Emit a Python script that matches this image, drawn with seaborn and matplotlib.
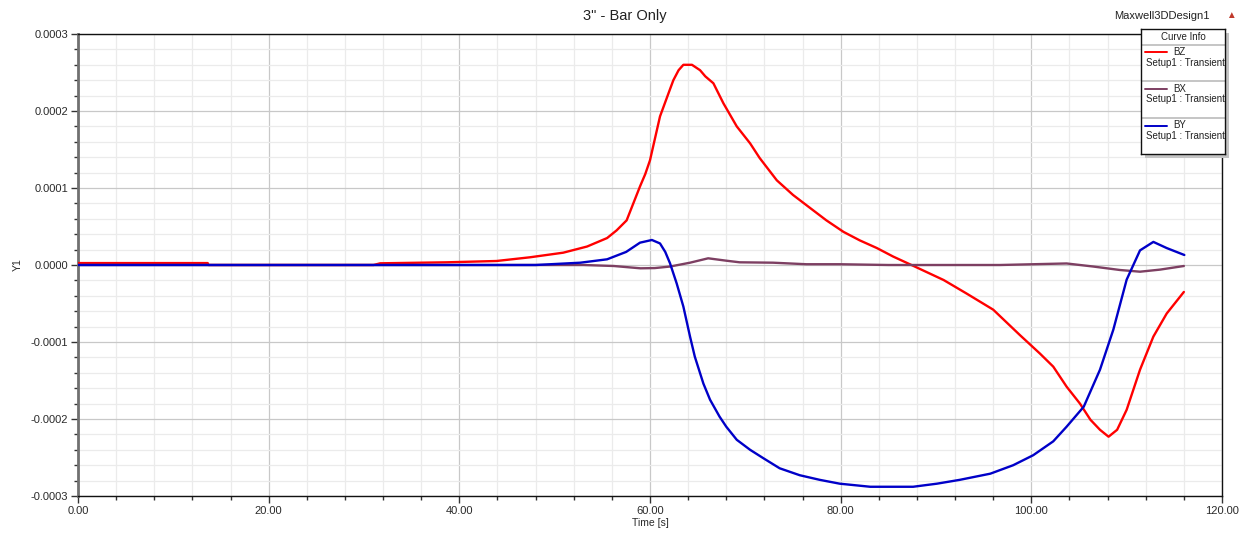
import numpy as np
import pandas as pd
import matplotlib
matplotlib.use("Agg")
import matplotlib.pyplot as plt
from matplotlib.ticker import MultipleLocator, FuncFormatter
import seaborn as sns

# ---------------- data ----------------
bz_t = [0, 13.6, 13.7, 31.0, 31.7, 38.7, 43.9, 47.4, 50.9, 53.4, 55.5, 56.5, 57.55, 58.95,
        59.5, 60.0, 61.05, 62.0, 62.45, 63.0, 63.5, 64.4, 65.25, 65.8, 66.65, 67.7, 69.1,
        70.5, 71.5, 73.3, 75.0, 76.8, 78.5, 80.3, 82.0, 83.8, 85.5, 87.6, 90.8, 93.2, 96.0,
        98.8, 100.9, 102.3, 103.7, 105.1, 106.2, 107.2, 108.1, 109.0, 110.0, 111.4, 112.8,
        114.2, 116.0]
bz_v = [2.5e-6, 2.5e-6, 0.0, 0.0, 2.2e-6, 3.5e-6, 5.2e-6, 1.0e-5, 1.6e-5, 2.4e-5, 3.5e-5,
        4.5e-5, 5.8e-5, 1.02e-4, 1.18e-4, 1.36e-4, 1.93e-4, 2.25e-4, 2.40e-4, 2.53e-4,
        2.60e-4, 2.60e-4, 2.53e-4, 2.45e-4, 2.36e-4, 2.10e-4, 1.80e-4, 1.58e-4, 1.39e-4,
        1.10e-4, 9.1e-5, 7.4e-5, 5.8e-5, 4.3e-5, 3.2e-5, 2.2e-5, 1.1e-5, -1e-6, -1.95e-5,
        -3.7e-5, -5.8e-5, -9.1e-5, -1.15e-4, -1.32e-4, -1.58e-4, -1.80e-4, -2.01e-4,
        -2.14e-4, -2.23e-4, -2.14e-4, -1.88e-4, -1.36e-4, -9.3e-5, -6.3e-5, -3.5e-5]

bx_t = [0, 50.0, 53.0, 56.2, 59.0, 60.5, 62.1, 64.2, 66.1, 68.0, 69.4, 72.9, 76.4, 79.9,
        85.0, 96.7, 103.7, 106.5, 109.3, 111.4, 113.5, 116.0]
bx_v = [0.0, 0.0, 0.0, -1.3e-6, -4.3e-6, -4.0e-6, -2e-6, 3e-6, 8.7e-6, 5.6e-6, 3.5e-6,
        3e-6, 1e-6, 1e-6, 0.0, 0.0, 2e-6, -2e-6, -6.5e-6, -8.7e-6, -6e-6, -1.3e-6]

by_t = [0, 48.0, 52.7, 55.5, 57.5, 58.95, 60.2, 61.05, 61.6, 62.1, 62.8, 63.5, 64.2, 64.7,
        65.6, 66.3, 67.3, 68.0, 69.1, 70.5, 71.9, 73.6, 75.7, 77.8, 79.9, 83.1, 87.6, 90.1,
        92.5, 95.7, 98.1, 100.2, 102.3, 103.7, 105.5, 107.2, 108.6, 110.0, 111.4, 112.8,
        114.2, 116.05]
by_v = [0.0, 0.0, 3e-6, 7.4e-6, 1.7e-5, 2.9e-5, 3.25e-5, 2.8e-5, 1.7e-5, 2.2e-6, -2.4e-5,
        -5.4e-5, -9.3e-5, -1.19e-4, -1.54e-4, -1.75e-4, -1.97e-4, -2.10e-4, -2.27e-4,
        -2.40e-4, -2.51e-4, -2.64e-4, -2.73e-4, -2.79e-4, -2.84e-4, -2.88e-4, -2.88e-4,
        -2.84e-4, -2.79e-4, -2.71e-4, -2.60e-4, -2.47e-4, -2.29e-4, -2.10e-4, -1.84e-4,
        -1.36e-4, -8.4e-5, -1.9e-5, 1.9e-5, 3.0e-5, 2.2e-5, 1.3e-5]

series_names = ["BZ", "BX", "BY"]
series_colors = {"BZ": "#ff0000", "BX": "#7d3f62", "BY": "#0000c8"}
title = '3" - Bar Only'
design = "Maxwell3DDesign1"
setup_label = "Setup1 : Transient"

# ---------------- figure ----------------
sns.set_theme(style="white")
plt.rcParams['font.family'] = ['Liberation Sans', 'DejaVu Sans']

W, H = 1249, 536
fig = plt.figure(figsize=(W / 100, H / 100), dpi=100)
ax = fig.add_axes([78 / W, 1 - 496 / H, (1222 - 78) / W, (496 - 34) / H])

data = {"BZ": (bz_t, bz_v), "BX": (bx_t, bx_v), "BY": (by_t, by_v)}
for name in series_names:
    t, v = data[name]
    df = pd.DataFrame({"Time": t, "Y1": v})
    sns.lineplot(data=df, x="Time", y="Y1", color=series_colors[name], lw=1.7,
                 estimator=None, sort=False, ax=ax, zorder=3)

ax.set_xlim(0, 120)
ax.set_ylim(-0.0003, 0.0003)
ax.xaxis.set_major_locator(MultipleLocator(20))
ax.xaxis.set_minor_locator(MultipleLocator(4))
ax.yaxis.set_major_locator(MultipleLocator(0.0001))
ax.yaxis.set_minor_locator(MultipleLocator(0.00002))
ax.xaxis.set_major_formatter(FuncFormatter(lambda v, p: f"{v:.2f}"))
ax.yaxis.set_major_formatter(FuncFormatter(lambda v, p: f"{v:.4f}" if abs(v) > 1e-12 else "0.0000"))

ax.grid(which="major", color="#c8c8c8", lw=0.9, zorder=0)
ax.grid(which="minor", color="#ebebeb", lw=0.9, zorder=0)
ax.set_axisbelow(True)

ax.tick_params(axis="both", which="major", direction="out", length=5, width=1,
               color="#333333", labelsize=8, labelcolor="#2a2a2a", pad=2, bottom=True, left=True)
ax.tick_params(axis="both", which="minor", direction="out", length=3, width=1,
               color="#333333", bottom=True, left=True)
for s in ["top", "right", "bottom"]:
    ax.spines[s].set_color("#111111")
    ax.spines[s].set_linewidth(1.0)
ax.spines["left"].set_color("#707070")
ax.spines["left"].set_linewidth(2.0)

ax.set_xlabel("Time [s]", fontsize=7.5, color="#2a2a2a", labelpad=2)
ax.set_ylabel("Y1", fontsize=7.5, color="#2a2a2a", labelpad=6)

fig.text(0.5, 1 - 16 / H, title, ha="center", va="center", fontsize=10.5, color="#222222")
fig.text(1162 / W, 1 - 16 / H, design, ha="center", va="center", fontsize=8, color="#222222")
fig.text(1231 / W, 1 - 15 / H, "\u25b2", ha="center", va="center", fontsize=7, color="#c0392b")

# ---------------- legend box ("Curve Info") ----------------
lx0, ly0, lx1, ly1 = 1141, 29, 1225, 154
sh = fig.add_axes([(lx0 + 4) / W, 1 - (ly1 + 4) / H, (lx1 - lx0) / W, (ly1 - ly0) / H])
sh.set_facecolor("#c4c4c4")
sh.set_xticks([]); sh.set_yticks([])
for s in sh.spines.values():
    s.set_visible(False)

lax = fig.add_axes([lx0 / W, 1 - ly1 / H, (lx1 - lx0) / W, (ly1 - ly0) / H])
lax.set_xlim(lx0, lx1)
lax.set_ylim(ly1, ly0)
lax.set_facecolor("white")
lax.set_xticks([]); lax.set_yticks([])
for s in lax.spines.values():
    s.set_color("#111111")
    s.set_linewidth(1.0)

lax.text((lx0 + lx1) / 2, 37, "Curve Info", ha="center", va="center", fontsize=7, color="#222222")
for yy in [44.5, 81, 118]:
    lax.plot([lx0, lx1], [yy, yy], color="#bbbbbb", lw=1.2)
entry_y = [52, 88.5, 125.5]
for name, yy in zip(series_names, entry_y):
    lax.plot([1145, 1167], [yy, yy], color=series_colors[name], lw=1.4)
    lax.text(1173, yy, name, ha="left", va="center", fontsize=7, color="#222222")
    lax.text(1145.5, yy + 10.5, setup_label, ha="left", va="center", fontsize=7, color="#222222")

fig.savefig("out.png", dpi=100, facecolor="white")
